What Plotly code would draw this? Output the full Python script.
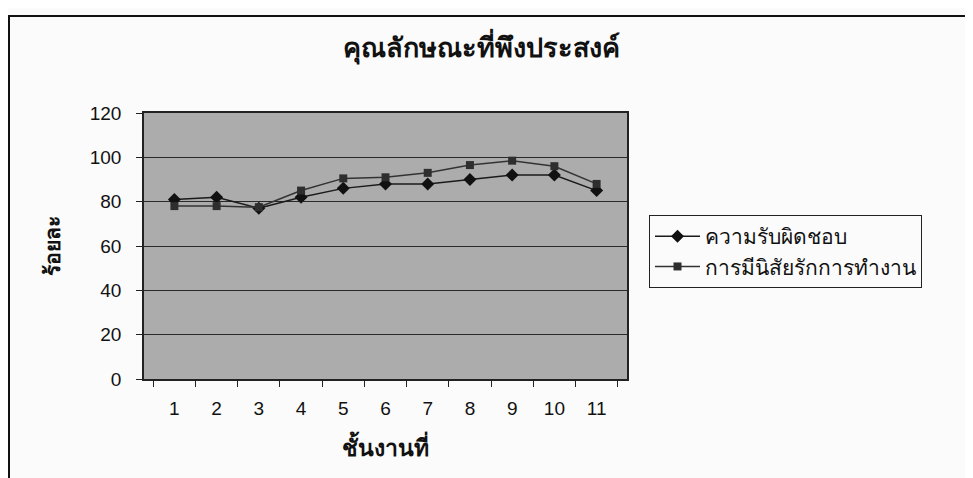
import plotly.graph_objects as go

categories = ["1", "2", "3", "4", "5", "6", "7", "8", "9", "10", "11"]
responsibility = [81, 82, 77, 82, 86, 88, 88, 90, 92, 92, 85]
love_of_work = [78, 78, 77.5, 85, 90.5, 91, 93, 96.5, 98.5, 96, 88]
series_names = ["ความรับผิดชอบ", "การมีนิสัยรักการทำงาน"]
title_text = "คุณลักษณะที่พึงประสงค์"
x_title = "ชั้นงานที่"
y_title = "ร้อยละ"

W, H = 973, 478
OFF = 8  # page body margin
L, R, T, B = 144 - OFF, 627 - OFF, 113 - OFF, 379 - OFF

def px(x):
    return (x - OFF - L) / (R - L)

def py(y):
    return (B - (y - OFF)) / (B - T)

fig = go.Figure()
fig.add_trace(go.Scatter(
    x=categories, y=responsibility, name=series_names[0], mode="lines+markers",
    line=dict(color="#1a1a1a", width=1.5),
    marker=dict(symbol="diamond", size=10, color="#111111"),
))
fig.add_trace(go.Scatter(
    x=categories, y=love_of_work, name=series_names[1], mode="lines+markers",
    line=dict(color="#333333", width=1.5),
    marker=dict(symbol="square", size=8, color="#2e2e2e"),
))

font_family = "Liberation Sans, Arial, Noto Sans, sans-serif"

fig.update_layout(
    width=W, height=H,
    margin=dict(l=L, r=W - R, t=T, b=H - B, pad=0, autoexpand=False),
    paper_bgcolor="#fbfbfb",
    plot_bgcolor="#acacac",
    font=dict(family=font_family, color="#111111"),
    title=dict(text="<b>" + title_text + "</b>", x=(481 - OFF) / W, xanchor="center",
               y=1 - (48 - OFF) / H, yanchor="middle", font=dict(size=27, color="#111111")),
    showlegend=True,
    legend=dict(x=px(649), xanchor="left", y=py(215), yanchor="top",
                xref="paper", yref="paper",
                bgcolor="#fbfbfb", bordercolor="#222222", borderwidth=1,
                font=dict(size=21, color="#111111"), tracegroupgap=0,
                itemwidth=45),
    xaxis=dict(
        type="category", tickson="boundaries", ticks="outside", ticklen=6,
        tickcolor="#222222", showline=True, linecolor="#222222", linewidth=1.5,
        mirror=True, showgrid=False, tickfont=dict(size=19, color="#111111"),
        ticklabelstandoff=11,
        title=dict(text="<b>" + x_title + "</b>", font=dict(size=23), standoff=22),
    ),
    yaxis=dict(
        range=[0, 120], dtick=20, ticks="outside", ticklen=6, tickcolor="#222222",
        showline=True, linecolor="#222222", linewidth=1.5, mirror=True,
        showgrid=True, gridcolor="#2a2a2a", gridwidth=1, zeroline=False,
        tickfont=dict(size=19, color="#111111"), ticklabelstandoff=11,
    ),
    annotations=[dict(
        text="<b>" + y_title + "</b>", xref="paper", yref="paper",
        x=px(52), y=py(246), xanchor="center", yanchor="middle",
        textangle=-90, showarrow=False, font=dict(size=21, color="#111111"),
    )],
)

# outer chart frame
fig.add_shape(type="rect", xref="paper", yref="paper",
              x0=px(9), x1=px(1000),
              y0=py(520), y1=py(16),
              line=dict(color="#111111", width=2), fillcolor="rgba(0,0,0,0)",
              layer="below")

fig.write_html("out.html")
